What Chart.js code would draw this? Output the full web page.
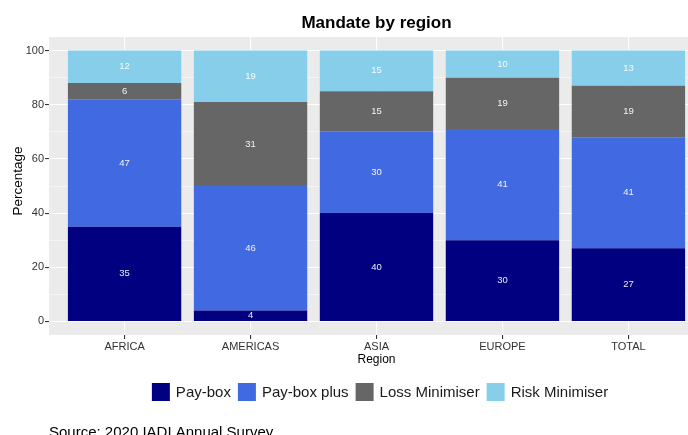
<!DOCTYPE html>
<html>
<head>
<meta charset="utf-8">
<script src="https://cdn.jsdelivr.net/npm/chart.js@4/dist/chart.umd.min.js"></script>
<style>
  html, body { margin: 0; padding: 0; background: #ffffff; }
  #wrap { width: 688px; height: 435px; overflow: hidden; position: relative; }
  canvas { display: block; }
</style>
</head>
<body>
<div id="wrap"><canvas id="c" width="712" height="435"></canvas></div>
<script>
// Mandate shares (%) by region
const categories = ['AFRICA', 'AMERICAS', 'ASIA', 'EUROPE', 'TOTAL'];
const payBox = [35, 4, 40, 30, 27];
const payBoxPlus = [47, 46, 30, 41, 41];
const lossMinimiser = [6, 31, 15, 19, 19];
const riskMinimiser = [12, 19, 15, 10, 13];
const yTickValues = [0, 20, 40, 60, 80, 100];
const yMinorValues = [10, 30, 50, 70, 90];

const seriesNames = ['Pay-box', 'Pay-box plus', 'Loss Minimiser', 'Risk Minimiser'];
const seriesColors = ['#000080', '#4169E1', '#666666', '#87CEEB'];
const seriesValues = [payBox, payBoxPlus, lossMinimiser, riskMinimiser];

const FONT = '"Liberation Sans", Arial, Helvetica, sans-serif';

const toPoints = vals => vals.map((v, i) => ({ x: i + 1, y: v }));

const datasets = seriesNames.map((name, k) => ({
  label: name,
  data: toPoints(seriesValues[k]),
  backgroundColor: seriesColors[k],
  borderWidth: 0,
  categoryPercentage: 1.0,
  barPercentage: 0.9
}));

// Panel background, titles, legend and caption
const decorations = {
  id: 'decorations',
  beforeDraw(chart) {
    const { ctx, chartArea: a } = chart;
    ctx.save();
    ctx.fillStyle = '#EBEBEB';
    ctx.fillRect(a.left, a.top, a.right - a.left, a.bottom - a.top);
    ctx.restore();
  },
  afterDatasetsDraw(chart) {
    const ctx = chart.ctx;
    ctx.save();
    ctx.font = '9.5px ' + FONT;
    ctx.fillStyle = 'rgba(255,255,255,0.92)';
    ctx.textAlign = 'center';
    ctx.textBaseline = 'middle';
    chart.data.datasets.forEach((ds, k) => {
      const meta = chart.getDatasetMeta(k);
      meta.data.forEach((bar, i) => {
        const v = seriesValues[k][i];
        ctx.fillText(String(v), bar.x, (bar.y + bar.base) / 2);
      });
    });
    ctx.restore();
  },
  afterDraw(chart) {
    const { ctx, chartArea: a } = chart;
    const cx = (a.left + a.right) / 2;
    ctx.save();
    ctx.fillStyle = '#000000';
    ctx.textAlign = 'center';
    ctx.textBaseline = 'alphabetic';
    ctx.font = 'bold 17px ' + FONT;
    ctx.fillText('Mandate by region', cx, 28);

    ctx.font = '12px ' + FONT;
    ctx.fillText('Region', cx, 363);

    ctx.save();
    ctx.translate(22, 181);
    ctx.rotate(-Math.PI / 2);
    ctx.font = '13.5px ' + FONT;
    ctx.fillText('Percentage', 0, 0);
    ctx.restore();

    // legend
    ctx.font = '15px ' + FONT;
    const box = 18, gapText = 6, gapItem = 7;
    const widths = seriesNames.map(n => ctx.measureText(n).width);
    const total = widths.reduce((s, w) => s + box + gapText + w, 0) + gapItem * (seriesNames.length - 1);
    let x = cx + 3.5 - total / 2;
    const yTop = 383;
    ctx.textAlign = 'left';
    ctx.textBaseline = 'middle';
    seriesNames.forEach((n, k) => {
      ctx.fillStyle = seriesColors[k];
      ctx.fillRect(x, yTop, box, box);
      ctx.fillStyle = '#1a1a1a';
      ctx.fillText(n, x + box + gapText, yTop + box / 2 + 0.5);
      x += box + gapText + widths[k] + gapItem;
    });

    ctx.textBaseline = 'alphabetic';
    ctx.fillStyle = '#000000';
    ctx.font = '15px ' + FONT;
    ctx.fillText('Source: 2020 IADI Annual Survey', 49, 437);
    ctx.restore();
  }
};

new Chart(document.getElementById('c'), {
  type: 'bar',
  data: { datasets },
  options: {
    responsive: false,
    animation: false,
    layout: { padding: { left: 0, top: 37, right: 8, bottom: 0 } },
    plugins: {
      legend: { display: false },
      title: { display: false },
      tooltip: { enabled: false }
    },
    scales: {
      x: {
        type: 'linear',
        stacked: true,
        min: 0.4,
        max: 5.6,
        offset: false,
        afterBuildTicks(scale) {
          scale.ticks = categories.map((c, i) => ({ value: i + 1 }));
        },
        afterFit(scale) { scale.height = 100; },
        border: { display: false },
        grid: {
          offset: false,
          color: '#ffffff',
          lineWidth: 1.1,
          tickLength: 4,
          tickColor: '#333333'
        },
        ticks: {
          autoSkip: false,
          maxRotation: 0,
          padding: 1,
          color: '#333333',
          font: { family: FONT, size: 11 },
          callback: v => categories[Math.round(v) - 1] || ''
        }
      },
      y: {
        stacked: true,
        min: -5,
        max: 105,
        afterBuildTicks(scale) {
          scale.ticks = yTickValues.concat(yMinorValues)
            .sort((p, q) => p - q)
            .map(v => ({ value: v }));
        },
        afterFit(scale) { scale.width = 49; },
        border: { display: false },
        grid: {
          color: '#ffffff',
          lineWidth: ctx => (ctx.tick && ctx.tick.value % 20 === 0) ? 1.1 : 0.5,
          tickLength: 4,
          tickColor: ctx => (ctx.tick && ctx.tick.value % 20 === 0) ? '#333333' : 'rgba(0,0,0,0)'
        },
        ticks: {
          autoSkip: false,
          padding: 1,
          color: '#333333',
          font: { family: FONT, size: 11 },
          callback: v => (v % 20 === 0) ? String(v) : ''
        }
      }
    }
  },
  plugins: [decorations]
});
</script>
</body>
</html>
